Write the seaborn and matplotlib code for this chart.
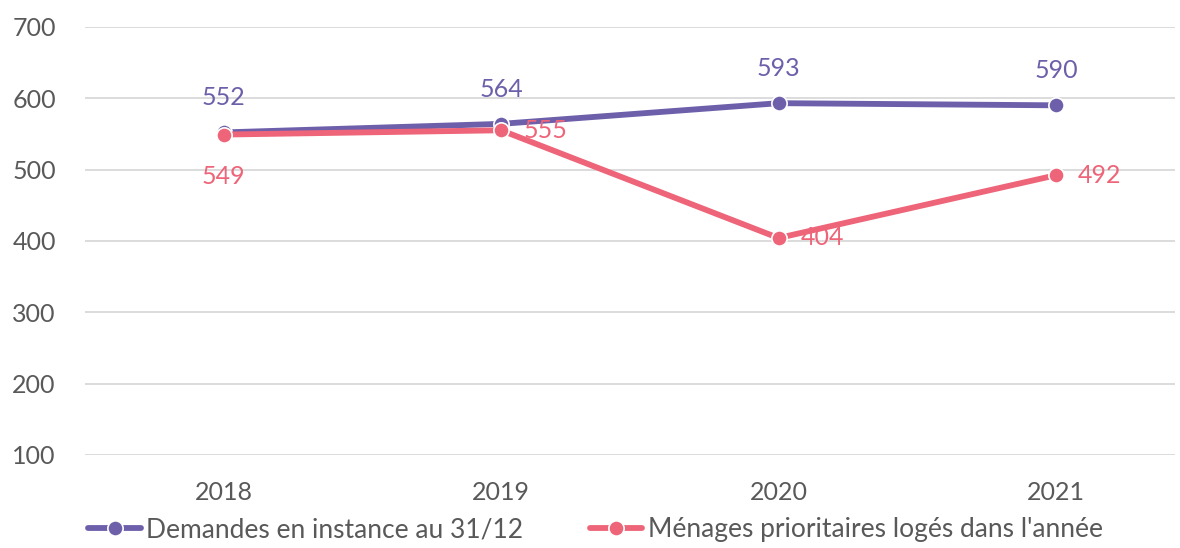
import pandas as pd
import matplotlib.pyplot as plt
import seaborn as sns

# Données
annees = ["2018", "2019", "2020", "2021"]
demandes = [552, 564, 593, 590]
menages = [549, 555, 404, 492]
serie_demandes = "Demandes en instance au 31/12"
serie_menages = "Ménages prioritaires logés dans l'année"

violet = "#6E5FAA"
rose = "#EE6478"
gris = "#595959"

df = pd.DataFrame({
    "annee": annees * 2,
    "valeur": demandes + menages,
    "serie": [serie_demandes] * 4 + [serie_menages] * 4,
})

sns.set_theme(style="white")
plt.rcParams["font.family"] = ["Lato", "DejaVu Sans"]

fig = plt.figure(figsize=(11.8, 5.48), dpi=100)
ax = fig.add_axes([0.072, 0.170, 0.924, 0.781])

sns.lineplot(data=df, x="annee", y="valeur", hue="serie",
             palette={serie_demandes: violet, serie_menages: rose},
             marker="o", markersize=11, markeredgecolor="white", markeredgewidth=1.2,
             linewidth=4.2, ax=ax, sort=False)

ax.set_ylim(100, 700)
ax.set_xlim(-0.5, 3.43)
ax.set_yticks(range(100, 701, 100))
ax.yaxis.grid(True, color="#D9D9D9", linewidth=1.3)
ax.set_axisbelow(True)
for s in ax.spines.values():
    s.set_visible(False)
ax.tick_params(axis="both", length=0, labelsize=18, labelcolor=gris)
ax.tick_params(axis="x", pad=19)
ax.tick_params(axis="y", pad=21)
ax.set_xlabel("")
ax.set_ylabel("")

# Étiquettes de données
for i, v in enumerate(demandes):
    ax.annotate(str(v), (i, v), xytext=(0, 25), textcoords="offset points",
                ha="center", va="center", color=violet, fontsize=18)
for i, v in enumerate(menages):
    if i == 0:
        ax.annotate(str(v), (i, v), xytext=(0, -30), textcoords="offset points",
                    ha="center", va="center", color=rose, fontsize=18)
    else:
        ax.annotate(str(v), (i, v), xytext=(16, 0), textcoords="offset points",
                    ha="left", va="center", color=rose, fontsize=18)

handles, labels = ax.get_legend_handles_labels()
ax.legend(handles, labels, loc="center left", bbox_to_anchor=(0.066, 0.033),
          bbox_transform=fig.transFigure, ncol=2, frameon=False,
          fontsize=19, labelcolor=gris, handlelength=2.0, handletextpad=0.2,
          columnspacing=2.5, borderaxespad=0)

fig.savefig("out.png", dpi=100)
